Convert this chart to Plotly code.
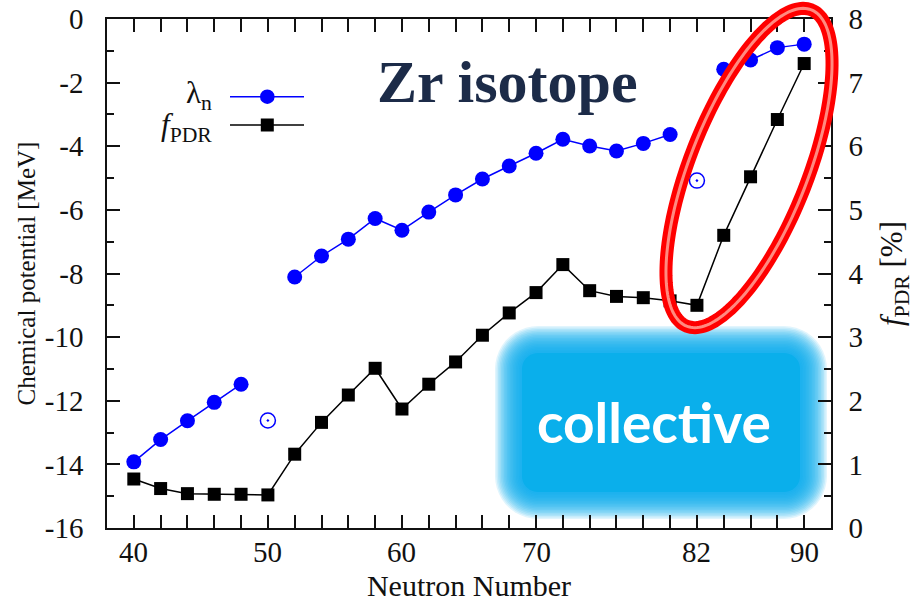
import numpy as np
import plotly.graph_objects as go

# ---------------- data ----------------
neutron = [40, 42, 44, 46, 48, 50, 52, 54, 56, 58, 60, 62, 64, 66, 68, 70,
           72, 74, 76, 78, 80, 82, 84, 86, 88, 90]
# chemical potential lambda_n [MeV] (None where the point is shown as open symbol)
lam_n = [-13.92, -13.22, -12.63, -12.05, -11.48, None, -8.11, -7.45, -6.92, -6.27,
         -6.64, -6.07, -5.53, -5.03, -4.62, -4.22, -3.78, -3.99, -4.15, -3.91,
         -3.63, None, -1.58, -1.29, -0.90, -0.79]
open_n = [50, 82]
open_lam = [-12.62, -5.08]
# f_PDR [%]
f_pdr = [0.77, 0.62, 0.54, 0.53, 0.53, 0.52, 1.16, 1.66, 2.09, 2.51, 1.87, 2.26,
         2.61, 3.03, 3.38, 3.70, 4.14, 3.73, 3.64, 3.62, 3.57, 3.50, 4.60, 5.52,
         6.42, 7.30]

x_tickvals = [40, 50, 60, 70, 82, 90]
x_ticktext = ["40", "50", "60", "70", "82", "90"]
y_tickvals = [0, -2, -4, -6, -8, -10, -12, -14, -16]
y_ticktext = ["0", "-2", "-4", "-6", "-8", "-10", "-12", "-14", "-16"]
y2_tickvals = [0, 1, 2, 3, 4, 5, 6, 7, 8]

# ---------------- layout geometry (pixels) ----------------
W, H = 919, 602
L, R, T, B = 107, 831, 19, 528


def px2paper(px, py):
    return (px - L) / (R - L), (B - py) / (B - T)


def path_from_pixels(pts):
    s = []
    for i, (px, py) in enumerate(pts):
        x, y = px2paper(px, py)
        s.append(("M" if i == 0 else "L") + f"{x:.5f},{y:.5f}")
    return " ".join(s) + " Z"


def rounded_rect(x0, y0, x1, y1, r, n=12):
    pts = []
    corners = [(x1 - r, y0 + r, -90, 0), (x1 - r, y1 - r, 0, 90),
               (x0 + r, y1 - r, 90, 180), (x0 + r, y0 + r, 180, 270)]
    for cx, cy, a0, a1 in corners:
        for a in np.linspace(np.radians(a0), np.radians(a1), n):
            pts.append((cx + r * np.cos(a), cy + r * np.sin(a)))
    return pts


def ellipse(cx, cy, a, b, ang_deg, n=180):
    th = np.radians(ang_deg)
    ux, uy = np.cos(th), -np.sin(th)   # major axis direction (screen coords)
    vx, vy = np.sin(th), np.cos(th)
    pts = []
    for t in np.linspace(0, 2 * np.pi, n, endpoint=False):
        pts.append((cx + a * np.cos(t) * ux + b * np.sin(t) * vx,
                    cy + a * np.cos(t) * uy + b * np.sin(t) * vy))
    return pts


fig = go.Figure()

fig.add_trace(go.Scatter(
    x=neutron, y=lam_n, mode="lines+markers", xaxis="x", yaxis="y",
    line=dict(color="#0000ff", width=1.5),
    marker=dict(color="#0000ff", size=15, symbol="circle"),
    connectgaps=False, showlegend=False))
fig.add_trace(go.Scatter(
    x=open_n, y=open_lam, mode="markers", xaxis="x", yaxis="y",
    marker=dict(color="#0000ff", size=15, symbol="circle-open-dot",
                line=dict(width=1.5, color="#0000ff")),
    showlegend=False))
fig.add_trace(go.Scatter(
    x=neutron, y=f_pdr, mode="lines+markers", xaxis="x", yaxis="y2",
    line=dict(color="#000000", width=1.5),
    marker=dict(color="#000000", size=13, symbol="square"),
    showlegend=False))

serif = "Liberation Serif"
tickfont = dict(family=serif, size=29, color="#111111")

shapes = []
# blue "collective" box with soft (blurred) edge
box = (510, 341, 812, 504)
inset = 12
for k in np.arange(15, -inset, -1.5):
    pts = rounded_rect(box[0] - k, box[1] - k, box[2] + k, box[3] + k, max(28 + k, 10))
    shapes.append(dict(type="path", xref="paper", yref="paper",
                       path=path_from_pixels(pts), fillcolor="#0aafeb",
                       opacity=0.12, line=dict(width=0), layer="below"))
shapes.append(dict(type="path", xref="paper", yref="paper",
                   path=path_from_pixels(rounded_rect(box[0] + inset, box[1] + inset,
                                                      box[2] - inset, box[3] - inset, 16)),
                   fillcolor="#0aafeb", line=dict(width=0), layer="below"))

# red ellipse highlight
ell = ellipse(749, 168, 170, 59, 68.5)
shapes.append(dict(type="path", xref="paper", yref="paper",
                   path=path_from_pixels(ell), line=dict(color="#ff0000", width=13),
                   layer="above"))
shapes.append(dict(type="path", xref="paper", yref="paper",
                   path=path_from_pixels(ell), line=dict(color="#ff8a80", width=3),
                   layer="above"))

# legend samples
lx0, lx1, lxc = 230, 304, 267.3
for yy, col in [(96.7, "#0000ff"), (125, "#000000")]:
    xa, ya = px2paper(lx0, yy)
    xb, _ = px2paper(lx1, yy)
    shapes.append(dict(type="line", xref="paper", yref="paper", x0=xa, x1=xb,
                       y0=ya, y1=ya, line=dict(color=col, width=1.5)))
cx, cy = px2paper(lxc, 96.7)
shapes.append(dict(type="circle", xref="paper", yref="paper", xsizemode="pixel",
                   ysizemode="pixel", xanchor=cx, yanchor=cy, x0=-7.3, x1=7.3,
                   y0=-7.3, y1=7.3, fillcolor="#0000ff", line=dict(width=0)))
sx, sy = px2paper(lxc, 125)
shapes.append(dict(type="rect", xref="paper", yref="paper", xsizemode="pixel",
                   ysizemode="pixel", xanchor=sx, yanchor=sy, x0=-6.5, x1=6.5,
                   y0=-6.5, y1=6.5, fillcolor="#000000", line=dict(width=0)))

annotations = []
# x tick labels placed on the x scale
for v, t in zip(x_tickvals, x_ticktext):
    annotations.append(dict(xref="x", yref="paper", x=v, y=-0.012, xanchor="center",
                            yanchor="top", showarrow=False, text=t, font=tickfont))
ax_, ay_ = px2paper(214, 95)
annotations.append(dict(xref="paper", yref="paper", x=ax_, y=ay_, xanchor="right",
                        yanchor="middle", showarrow=False, text="λ<sub>n</sub>",
                        font=dict(family=serif, size=31, color="#111111")))
ax_, ay_ = px2paper(214, 127)
annotations.append(dict(xref="paper", yref="paper", x=ax_, y=ay_, xanchor="right",
                        yanchor="middle", showarrow=False, text="<i>f</i><sub>PDR</sub>",
                        font=dict(family=serif, size=31, color="#111111")))
ax_, ay_ = px2paper(507, 82)
annotations.append(dict(xref="paper", yref="paper", x=ax_, y=ay_, xanchor="center",
                        yanchor="middle", showarrow=False, text="<b>Zr isotope</b>",
                        font=dict(family=serif, size=60, color="#1c2b48")))
ax_, ay_ = px2paper(654, 422)
annotations.append(dict(xref="paper", yref="paper", x=ax_, y=ay_, xanchor="center",
                        yanchor="middle", showarrow=False, text="<b>collective</b>",
                        font=dict(family="Lato", size=55, color="#ffffff")))

axis_common = dict(showgrid=False, zeroline=False, linecolor="#111111", linewidth=1.5,
                   automargin=False)

fig.update_layout(
    width=W, height=H,
    margin=dict(l=L, r=W - R, t=T, b=H - B, pad=0),
    paper_bgcolor="white", plot_bgcolor="white",
    xaxis=dict(range=[38, 92], tickmode="linear", tick0=38, dtick=4,
               ticks="inside", ticklen=13, tickwidth=1.5, tickcolor="#111111",
               showticklabels=False, showline=True, mirror="allticks",
               minor=dict(dtick=2, tick0=38, ticks="inside", ticklen=7, tickwidth=1.5,
                          tickcolor="#111111", showgrid=False),
               title=dict(text="Neutron Number", standoff=47,
                          font=dict(family=serif, size=30, color="#111111")),
               **axis_common),
    yaxis=dict(range=[-16, 0], tickmode="array", tickvals=y_tickvals,
               ticktext=y_ticktext, ticks="inside", ticklen=13, tickwidth=1.5,
               tickcolor="#111111", showline=True, tickfont=tickfont,
               ticklabelstandoff=16,
               minor=dict(dtick=1, tick0=0, ticks="inside", ticklen=7, tickwidth=1.5,
                          tickcolor="#111111", showgrid=False),
               title=dict(text="Chemical potential [MeV]", standoff=2,
                          font=dict(family=serif, size=25, color="#111111")),
               **axis_common),
    yaxis2=dict(range=[0, 8], overlaying="y", side="right", anchor="x",
                tickmode="array", tickvals=y2_tickvals,
                ticks="inside", ticklen=13, tickwidth=1.5, tickcolor="#111111",
                showline=True, tickfont=tickfont, ticklabelstandoff=10,
                minor=dict(dtick=0.5, tick0=0, ticks="inside", ticklen=7, tickwidth=1.5,
                           tickcolor="#111111", showgrid=False),
                title=dict(text="<i>f</i><sub>PDR</sub> [%]", standoff=18,
                           font=dict(family=serif, size=31, color="#111111")),
                **axis_common),
    shapes=shapes,
    annotations=annotations,
)

fig.write_html("out.html")
